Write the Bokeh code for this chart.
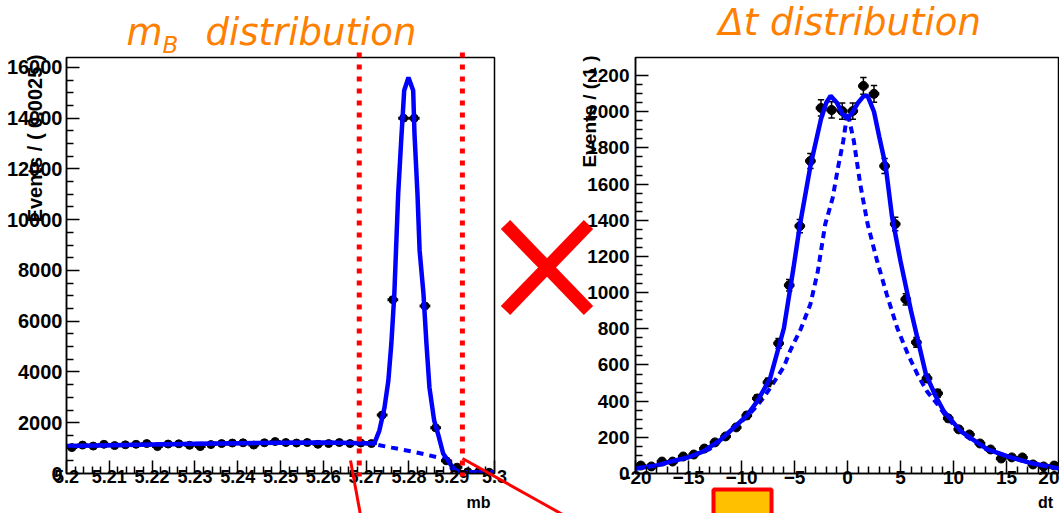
import numpy as np
from bokeh.plotting import figure
from bokeh.layouts import row
from bokeh.models import Range1d, FixedTicker
from bokeh.core.properties import value
from bokeh.embed import file_html
from bokeh.resources import INLINE

# ---------------- data: m_B histogram ----------------
mb_centers = [5.20125, 5.20375, 5.20625, 5.20875, 5.21125, 5.21375, 5.21625, 5.21875,
              5.22125, 5.22375, 5.22625, 5.22875, 5.23125, 5.23375, 5.23625, 5.23875,
              5.24125, 5.24375, 5.24625, 5.24875, 5.25125, 5.25375, 5.25625, 5.25875,
              5.26125, 5.26375, 5.26625, 5.26875, 5.27125, 5.27375, 5.27625, 5.27875,
              5.28125, 5.28375, 5.28625, 5.28875, 5.29125, 5.29375, 5.29625, 5.29875]
mb_counts = [1020, 1120, 1080, 1150, 1100, 1130, 1150, 1180, 1060, 1160, 1170, 1110,
             1060, 1140, 1180, 1200, 1210, 1120, 1210, 1260, 1220, 1200, 1220, 1150,
             1180, 1220, 1180, 1200, 1180, 2300, 6850, 14000, 14000, 6600, 1800, 500,
             250, 70, 60, 50]
mb_bin_width = 0.0025
mb_fit_x = [5.2, 5.21, 5.22, 5.23, 5.24, 5.25, 5.26, 5.27, 5.2719, 5.2731, 5.2743,
            5.2752, 5.2759, 5.2766, 5.2775, 5.2782, 5.2789, 5.2799, 5.2810, 5.2813,
            5.2820, 5.2825, 5.2834, 5.2841, 5.2848, 5.2859, 5.2869, 5.2880, 5.2899,
            5.2910, 5.2920, 5.3]
mb_fit_y = [1080, 1110, 1140, 1170, 1190, 1210, 1220, 1190, 1180, 1690, 2600, 3660,
            5120, 7090, 11030, 13120, 15090, 15600, 15090, 13400, 11030, 8790, 7090,
            5120, 3390, 2090, 1500, 790, 315, 118, 60, 50]
mb_bkg_x = [5.2, 5.21, 5.22, 5.23, 5.24, 5.25, 5.26, 5.27, 5.272, 5.276, 5.2813,
            5.2869, 5.2892, 5.2900, 5.2905]
mb_bkg_y = [1080, 1110, 1140, 1170, 1190, 1210, 1220, 1190, 1150, 1020, 850, 630,
            480, 200, 60]
mb_cuts = [5.2684, 5.2925]
mb_xticks = [5.2, 5.21, 5.22, 5.23, 5.24, 5.25, 5.26, 5.27, 5.28, 5.29, 5.3]
mb_xlabels = ["5.2", "5.21", "5.22", "5.23", "5.24", "5.25", "5.26", "5.27", "5.28", "5.29", "5.3"]
mb_yticks = [0, 2000, 4000, 6000, 8000, 10000, 12000, 14000, 16000]

# ---------------- data: delta t histogram ----------------
dt_centers = [-19.5, -18.5, -17.5, -16.5, -15.5, -14.5, -13.5, -12.5, -11.5, -10.5,
              -9.5, -8.5, -7.5, -6.5, -5.5, -4.5, -3.5, -2.5, -1.5, -0.5,
              0.5, 1.5, 2.5, 3.5, 4.5, 5.5, 6.5, 7.5, 8.5, 9.5,
              10.5, 11.5, 12.5, 13.5, 14.5, 15.5, 16.5, 17.5, 18.5, 19.5]
dt_counts = [44, 39, 66, 66, 94, 105, 138, 172, 205, 255,
             321, 415, 504, 720, 1041, 1368, 1728, 2021, 2010, 2004,
             2004, 2143, 2099, 1700, 1379, 963, 725, 526, 443, 305,
             244, 216, 166, 133, 83, 89, 89, 50, 39, 44]
dt_bin_width = 1.0
dt_fit_x = [-20, -18, -16.7, -15, -13.6, -12, -10.4, -9.5, -8.5, -7.3, -6, -5.1, -4.5,
            -3.5, -2.5, -2, -1.6, -1, -0.5, 0, 0.5, 1, 1.5, 1.9, 2.5, 3, 3.6, 4.2, 5,
            6, 7.4, 8.3, 9.1, 10.7, 13.2, 15.4, 17.5, 20]
dt_fit_y = [28, 45, 66, 90, 122, 185, 271, 320, 400, 526, 803, 1135, 1370,
            1700, 1960, 2050, 2088, 2050, 1990, 1960, 2000, 2050, 2085, 2088, 2000, 1860,
            1700, 1420, 1174, 897, 548, 430, 343, 233, 133, 89, 55, 27]
dt_sig_x = [-20, -16, -13, -10.5, -9.5, -8.9, -7.9, -7, -6, -5.4, -4.4, -3.5, -2.8,
            -2.1, -1.4, -0.9, -0.4, 0, 0.6, 1.2, 1.9, 2.8, 3.7, 4.7, 5.7, 6.6, 7.5,
            8.5, 9.5, 11, 13, 16, 20]
dt_sig_y = [27, 68, 135, 260, 315, 350, 420, 500, 590, 680, 800, 936, 1118,
            1379, 1523, 1690, 1838, 2000, 1838, 1600, 1379, 1174, 991, 803, 659, 548, 454,
            382, 300, 215, 135, 78, 27]
dt_xticks = [-20, -15, -10, -5, 0, 5, 10, 15, 20]
dt_yticks = [0, 200, 400, 600, 800, 1000, 1200, 1400, 1600, 1800, 2000, 2200]

BLUE = "#0000ff"
RED = "#ff0000"
ORANGE = "#ff8000"
TICK_FONT = "Liberation Sans"


def style_axes(p, xfs, yfs, xstand, ystand):
    for ax, fs, st in ((p.xaxis[0], xfs, xstand), (p.yaxis[0], yfs, ystand)):
        ax.axis_line_color = "black"
        ax.axis_line_width = 1.5
        ax.major_tick_in = 13
        ax.major_tick_out = 0
        ax.minor_tick_in = 7
        ax.minor_tick_out = 0
        ax.major_tick_line_width = 1.5
        ax.minor_tick_line_width = 1.5
        ax.major_tick_line_color = "black"
        ax.minor_tick_line_color = "black"
        ax.major_label_text_font = TICK_FONT
        ax.major_label_text_font_style = "bold"
        ax.major_label_text_font_size = fs
        ax.major_label_text_color = "black"
        ax.major_label_standoff = st
    p.xgrid.visible = False
    p.ygrid.visible = False
    p.outline_line_color = "black"
    p.outline_line_width = 1.5
    p.background_fill_color = "white"
    p.border_fill_color = "white"


def minor(ticks, n):
    out = []
    for a, b in zip(ticks[:-1], ticks[1:]):
        out += list(np.linspace(a, b, n + 1)[1:-1])
    return out


def ptext(p, x, y, txt, font, size, color="black", style="bold", align="left",
          baseline="middle", angle=0.0, level="overlay"):
    p.text(x=[x], y=[y], text=[txt], x_range_name="px", y_range_name="py",
           text_font=value(font), text_font_style=style, text_font_size=size,
           text_color=color, text_align=align, text_baseline=baseline,
           angle=angle, level=level)


def decorations(p):
    # big red "X"
    p.segment(x0=[505, 588], y0=[224, 224], x1=[588, 505], y1=[310, 310],
              x_range_name="px", y_range_name="py", line_color=RED,
              line_width=13, line_cap="butt", level="overlay")
    # diagonal red lines from the mB cut window
    p.segment(x0=[350, 462], y0=[460, 458], x1=[361, 580], y1=[520, 524],
              x_range_name="px", y_range_name="py", line_color=RED,
              line_width=3, level="overlay")


# ======================= left: m_B =======================
p1 = figure(width=540, height=513, x_range=Range1d(5.2, 5.3), y_range=Range1d(0, 16390),
            output_backend="svg", toolbar_location=None,
            min_border_left=66, min_border_right=46, min_border_top=57, min_border_bottom=40)
p1.extra_x_ranges = {"px": Range1d(66, 494)}
p1.extra_y_ranges = {"py": Range1d(473, 57)}
style_axes(p1, "18px", "20px", -4, 4)
p1.xaxis.ticker = FixedTicker(ticks=mb_xticks, minor_ticks=minor(mb_xticks, 5))
p1.xaxis.major_label_overrides = dict(zip(mb_xticks, mb_xlabels))
p1.yaxis.ticker = FixedTicker(ticks=mb_yticks, minor_ticks=minor(mb_yticks, 4))

mbc = np.array(mb_centers)
mbn = np.array(mb_counts, dtype=float)
mbe = np.sqrt(mbn)
p1.line(mb_bkg_x, mb_bkg_y, line_color=BLUE, line_width=4, line_dash="7 6")
p1.segment(x0=mbc - mb_bin_width / 2, x1=mbc + mb_bin_width / 2, y0=mbn, y1=mbn,
           line_color="black", line_width=3)
p1.segment(x0=mbc, x1=mbc, y0=mbn - mbe, y1=mbn + mbe, line_color="black", line_width=2)
p1.scatter(mbc, mbn, size=8, marker="circle", fill_color="black", line_color="black")
p1.line(mb_fit_x, mb_fit_y, line_color=BLUE, line_width=4.5)

p1.segment(x0=mb_cuts, x1=mb_cuts, y0=[52, 52], y1=[476, 476], y_range_name="py",
           line_color=RED, line_width=5, line_dash="5 7", level="overlay")
decorations(p1)

ptext(p1, 126, 32, "m", "DejaVu Sans", "37px", ORANGE, "italic")
ptext(p1, 162, 44, "B", "DejaVu Sans", "23px", ORANGE, "italic")
ptext(p1, 205, 32, "distribution", "DejaVu Sans", "37px", ORANGE, "italic")
ptext(p1, 34, 54, "Events / ( 0.0025 )", TICK_FONT, "20px", align="right",
      angle=np.pi / 2, level="guide")
ptext(p1, 478, 502, "mb", TICK_FONT, "16px", align="center")

# ======================= right: delta t =======================
p2 = figure(width=519, height=513, x_range=Range1d(-20, 20), y_range=Range1d(0, 2300),
            output_backend="svg", toolbar_location=None,
            min_border_left=95, min_border_right=0, min_border_top=57, min_border_bottom=40)
p2.extra_x_ranges = {"px": Range1d(635, 1059)}
p2.extra_y_ranges = {"py": Range1d(473, 57)}
style_axes(p2, "19px", "19px", -3, 6)
p2.xaxis.ticker = FixedTicker(ticks=dt_xticks, minor_ticks=minor(dt_xticks, 5))
p2.yaxis.ticker = FixedTicker(ticks=dt_yticks, minor_ticks=minor(dt_yticks, 4))

dtc = np.array(dt_centers)
dtn = np.array(dt_counts, dtype=float)
dte = np.sqrt(dtn)
p2.line(dt_sig_x, dt_sig_y, line_color=BLUE, line_width=4, line_dash="7 5")
p2.segment(x0=dtc - dt_bin_width / 2, x1=dtc + dt_bin_width / 2, y0=dtn, y1=dtn,
           line_color="black", line_width=3)
p2.segment(x0=dtc, x1=dtc, y0=dtn - dte, y1=dtn + dte, line_color="black", line_width=1.5)
p2.segment(x0=dtc - 0.3, x1=dtc + 0.3, y0=dtn + dte, y1=dtn + dte, line_color="black", line_width=1.5)
p2.segment(x0=dtc - 0.3, x1=dtc + 0.3, y0=dtn - dte, y1=dtn - dte, line_color="black", line_width=1.5)
p2.scatter(dtc, dtn, size=9, marker="circle", fill_color="black", line_color="black")
p2.line(dt_fit_x, dt_fit_y, line_color=BLUE, line_width=4.5)
decorations(p2)
# yellow box
p2.quad(left=[713], right=[771], top=[489], bottom=[530], x_range_name="px", y_range_name="py",
        fill_color="#ffc000", line_color=RED, line_width=4, level="overlay")

ptext(p2, 718, 22, "\u0394t distribution", "DejaVu Sans", "37px", ORANGE, "italic")
ptext(p2, 589, 55, "Events / ( 1 )", TICK_FONT, "19px", align="right",
      angle=np.pi / 2, level="guide")
ptext(p2, 1045, 502, "dt", TICK_FONT, "16px", align="center")

layout = row(p1, p2)
open("out.html", "w").write(file_html(layout, INLINE))
